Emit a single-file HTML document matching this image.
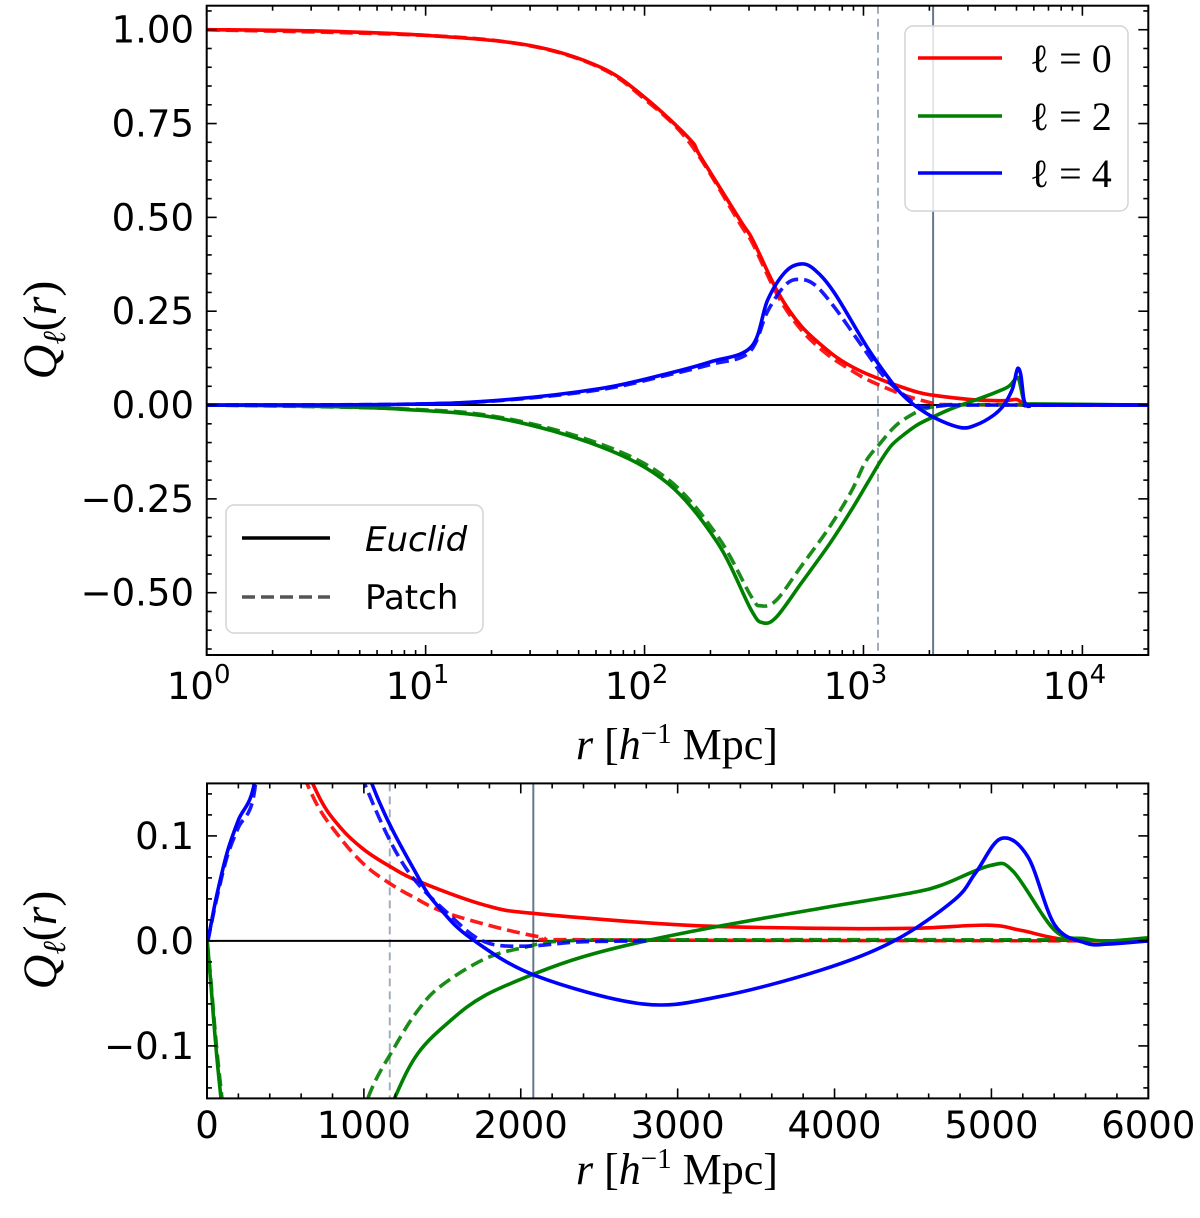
<!DOCTYPE html>
<html><head><meta charset="utf-8"><style>
html,body{margin:0;padding:0;background:#fff;overflow:hidden;width:1200px;height:1218px;}
svg{display:block;}
svg text{font-family:"DejaVu Sans","Liberation Sans",sans-serif;}
</style></head><body>
<svg id="fig" width="1200" height="1218" viewBox="0 0 1200 1218" xmlns="http://www.w3.org/2000/svg" overflow="hidden">
<defs>
<clipPath id="clipTop"><rect x="206.7" y="5.7" width="941.6" height="649.3"/></clipPath>
<clipPath id="clipBot"><rect x="207" y="783.4" width="941.3" height="315"/></clipPath>
</defs>
<g id="top"></g>
<g id="bot"></g>
</svg>
<script>
// ---- data (r in h^-1 Mpc, Q values) ----
const r0s = [0,1,3,10,30,63,100,160,181,275,312,407,520,705,850,1000,1165,1345,1772,2093,3053,3909,4500,4977,5190,5490,6000,20000];
const q0s = [1.0,1.0,0.997,0.985,0.958,0.9,0.82,0.71,0.66,0.49,0.44,0.30,0.21,0.14,0.108,0.087,0.071,0.057,0.034,0.026,0.015,0.012,0.012,0.015,0.010,0.001,0,0];
const r0d = [0,1,10,30,63,100,160,275,312,407,520,683,850,1000,1132,1300,1559,2114,2500,6000,20000];
const q0d = [1,1,0.985,0.957,0.898,0.815,0.70,0.48,0.43,0.29,0.20,0.135,0.098,0.073,0.058,0.043,0.025,0.004,0.001,0,0];
const r2s = [0,1,3,7.7,22,63,128,216,307,347,400,519,700,880,1050,1195,1345,1559,1772,2093,2400,2798,3300,3909,4463,4680,4998,5140,5404,5600,5745,6000,20000];
const q2s = [0,0,-0.003,-0.011,-0.036,-0.111,-0.209,-0.368,-0.546,-0.58,-0.565,-0.475,-0.37,-0.28,-0.205,-0.15,-0.107,-0.075,-0.052,-0.031,-0.015,0,0.015,0.031,0.045,0.053,0.072,0.066,0.010,0.002,0.0,0.003,0];
const r2d = [0,1,7.7,22,63,128,216,307,340,400,519,700,880,1025,1200,1345,1490,1772,2028,2280,3000,5400,5600,20000];
const q2d = [0,0,-0.010,-0.033,-0.104,-0.198,-0.35,-0.51,-0.535,-0.52,-0.43,-0.325,-0.23,-0.15,-0.1,-0.066,-0.043,-0.017,-0.006,0,0.001,0.001,0,0];
const r4s = [0,1,7.7,22,63,128,200,307,365,440,519,600,738,1050,1345,1490,1687,2093,2776,3268,3909,4379,4763,4900,5062,5233,5404,5600,5745,6000,20000];
const q4s = [0,0,0.002,0.013,0.044,0.084,0.115,0.155,0.28,0.355,0.376,0.36,0.298,0.15,0.061,0.030,0.002,-0.033,-0.060,-0.053,-0.028,0,0.039,0.065,0.0975,0.08,0.015,-0.002,-0.003,0,0];
const r4d = [0,1,7.7,22,63,128,200,300,365,440,510,600,738,1004,1260,1559,1772,2028,2370,2800,20000];
const q4d = [0,0,0.002,0.012,0.041,0.080,0.108,0.14,0.25,0.32,0.335,0.32,0.26,0.15,0.071,0.023,-0.001,-0.005,-0.001,0,0];
const vlineDashed = 1165, vlineSolid = 2080;
const topYTicks = [1.00,0.75,0.50,0.25,0.00,-0.25,-0.50];
const topYLabels = ["1.00","0.75","0.50","0.25","0.00","\u22120.25","\u22120.50"];
const topXExp = [0,1,2,3,4];
const botXTicks = [0,1000,2000,3000,4000,5000,6000];
const botYTicks = [0.1,0.0,-0.1];
const botYLabels = ["0.1","0.0","\u22120.1"];

const NS="http://www.w3.org/2000/svg";
function mk(parent,tag,attrs,txt){const e=document.createElementNS(NS,tag);for(const k in attrs)e.setAttribute(k,attrs[k]);if(txt!==undefined)e.textContent=txt;parent.appendChild(e);return e;}

const T={x0:206.7,x1:1148.3,y0:5.7,y1:655,lmin:0,lmax:Math.log10(20000),ymin:-0.666,ymax:1.064};
const tx=r=>T.x0+(Math.log10(r)-T.lmin)/(T.lmax-T.lmin)*(T.x1-T.x0);
const ty=q=>T.y1-(q-T.ymin)/(T.ymax-T.ymin)*(T.y1-T.y0);
const B={x0:207,x1:1148.3,y0:783.4,y1:1098.4,xmin:0,xmax:6000,ymin:-0.15,ymax:0.15};
const bx=r=>B.x0+(r-B.xmin)/(B.xmax-B.xmin)*(B.x1-B.x0);
const by=q=>B.y1-(q-B.ymin)/(B.ymax-B.ymin)*(B.y1-B.y0);

function pathD(pts){
  if(pts.length<2)return "";
  let d="M"+pts[0][0].toFixed(2)+","+pts[0][1].toFixed(2);
  for(let i=0;i<pts.length-1;i++){
    const p0=pts[Math.max(0,i-1)],p1=pts[i],p2=pts[i+1],p3=pts[Math.min(pts.length-1,i+2)];
    const c1=[p1[0]+(p2[0]-p0[0])/6,p1[1]+(p2[1]-p0[1])/6];
    const c2=[p2[0]-(p3[0]-p1[0])/6,p2[1]-(p3[1]-p1[1])/6];
    d+=" C"+c1[0].toFixed(2)+","+c1[1].toFixed(2)+" "+c2[0].toFixed(2)+","+c2[1].toFixed(2)+" "+p2[0].toFixed(2)+","+p2[1].toFixed(2);
  }
  return d;
}

const topG=document.getElementById('top'), botG=document.getElementById('bot');
const series=[
 {r:r0s,q:q0s,c:"#ff0000",dash:false,n:"l0-euclid"},
 {r:r0d,q:q0d,c:"#ff0000",dash:true,n:"l0-patch"},
 {r:r2s,q:q2s,c:"#008000",dash:false,n:"l2-euclid"},
 {r:r2d,q:q2d,c:"#008000",dash:true,n:"l2-patch"},
 {r:r4s,q:q4s,c:"#0000ff",dash:false,n:"l4-euclid"},
 {r:r4d,q:q4d,c:"#0000ff",dash:true,n:"l4-patch"}
];

// ---- top panel ----
const tclip=mk(topG,"g",{"clip-path":"url(#clipTop)"});
let e;
e=mk(tclip,"line",{x1:tx(vlineDashed),x2:tx(vlineDashed),y1:T.y0,y2:T.y1,stroke:"#a3adba","stroke-width":2,"stroke-dasharray":"8,5"});


e=mk(tclip,"line",{x1:tx(vlineSolid),x2:tx(vlineSolid),y1:T.y0,y2:T.y1,stroke:"#66788a","stroke-width":2});


e=mk(tclip,"line",{x1:T.x0,x2:T.x1,y1:ty(0),y2:ty(0),stroke:"#000","stroke-width":2});


series.forEach(s=>{
  const pts=[];for(let i=0;i<s.r.length;i++){if(s.r[i]>0)pts.push([tx(s.r[i]),ty(s.q[i])]);}
  const p=mk(tclip,"path",{d:pathD(pts),fill:"none",stroke:s.c,"stroke-width":3.6,"stroke-linejoin":"round","opacity":s.dash?0.9:1});
  if(s.dash)p.setAttribute("stroke-dasharray","13,6");
  
  
});
function tick(g,x1,y1,x2,y2){mk(g,"line",{x1,y1,x2,y2,stroke:"#000","stroke-width":1.6});}
const tt=mk(topG,"g",{});
topYTicks.forEach((v,i)=>{const y=ty(v);tick(tt,T.x0,y,T.x0+10,y);tick(tt,T.x1,y,T.x1-10,y);
  e=mk(topG,"text",{x:194,y:y+13,"text-anchor":"end","font-size":37},topYLabels[i]);
  
  });
for(let v=-0.65;v<=1.06;v+=0.05){const vv=Math.round(v*100)/100;if(Math.abs(vv*4-Math.round(vv*4))<1e-6)continue;const y=ty(vv);tick(tt,T.x0,y,T.x0+5,y);tick(tt,T.x1,y,T.x1-5,y);}
topXExp.forEach(k=>{const x=tx(Math.pow(10,k));tick(tt,x,T.y1,x,T.y1-10);tick(tt,x,T.y0,x,T.y0+10);
  const t=mk(topG,"text",{x:x-8,y:699,"text-anchor":"middle","font-size":37},"10");
  
  
  mk(t,"tspan",{dy:-16,"font-size":26},String(k));});
for(let k=0;k<5;k++)for(let m=2;m<=9;m++){const r=m*Math.pow(10,k);if(r>20000)break;const x=tx(r);tick(tt,x,T.y1,x,T.y1-5);tick(tt,x,T.y0,x,T.y0+5);}
e=mk(topG,"rect",{x:T.x0,y:T.y0,width:T.x1-T.x0,height:T.y1-T.y0,fill:"none",stroke:"#000","stroke-width":2});


const lg1=mk(topG,"g",{});


mk(lg1,"rect",{x:905,y:26,width:223,height:185,rx:8,fill:"rgba(255,255,255,0.82)",stroke:"#d4d4d4","stroke-width":1.5});
[["#ff0000","0",58],["#008000","2",116],["#0000ff","4",173]].forEach(a=>{
  const ge=mk(lg1,"g",{});
  
  
  mk(ge,"line",{x1:918,x2:1002,y1:a[2],y2:a[2],stroke:a[0],"stroke-width":3.6});
  mk(ge,"text",{x:1030,y:a[2]+14,"font-size":40,style:"font-family:'Liberation Serif',serif"},"\u2113 = "+a[1]);
});
const lg2=mk(topG,"g",{});


mk(lg2,"rect",{x:226,y:505,width:257,height:128,rx:8,fill:"rgba(255,255,255,0.82)",stroke:"#d4d4d4","stroke-width":1.5});
mk(lg2,"line",{x1:242,x2:330,y1:538,y2:538,stroke:"#000","stroke-width":3.6});
mk(lg2,"text",{x:365,y:551,"font-size":34,"font-style":"italic"},"Euclid");
mk(lg2,"line",{x1:242,x2:330,y1:597,y2:597,stroke:"#555","stroke-width":3.6,"stroke-dasharray":"13,6"});
mk(lg2,"text",{x:365,y:609,"font-size":34},"Patch");
function ylab(g,cy,name){const t=mk(g,"text",{transform:"translate(56,"+cy+") rotate(-90)","text-anchor":"middle","font-size":48,"font-style":"italic",style:"font-family:'Liberation Serif',serif"},"Q");
  
  
  mk(t,"tspan",{"font-size":32,dy:9},"\u2113");mk(t,"tspan",{dy:-9,"font-style":"normal"},"(");mk(t,"tspan",{},"r");mk(t,"tspan",{"font-style":"normal"},")");}
function xlab(g,y,name){const t=mk(g,"text",{x:677,y:y,"text-anchor":"middle","font-size":44,style:"font-family:'Liberation Serif',serif"});
  
  
  mk(t,"tspan",{"font-style":"italic"},"r");mk(t,"tspan",{}," [");mk(t,"tspan",{"font-style":"italic"},"h");mk(t,"tspan",{"font-size":29,dy:-16},"\u22121");mk(t,"tspan",{dy:16}," Mpc]");}
ylab(topG,330,'top-y-axis-title');
xlab(topG,759,'top-x-axis-title');

// ---- bottom panel ----
const bclip=mk(botG,"g",{"clip-path":"url(#clipBot)"});
e=mk(bclip,"line",{x1:bx(vlineDashed),x2:bx(vlineDashed),y1:B.y0,y2:B.y1,stroke:"#a3adba","stroke-width":2,"stroke-dasharray":"8,5"});


e=mk(bclip,"line",{x1:bx(vlineSolid),x2:bx(vlineSolid),y1:B.y0,y2:B.y1,stroke:"#66788a","stroke-width":2});


e=mk(bclip,"line",{x1:B.x0,x2:B.x1,y1:by(0),y2:by(0),stroke:"#000","stroke-width":2});


series.forEach(s=>{
  const pts=[];for(let i=0;i<s.r.length;i++){if(s.r[i]<=7000&&!(s.r[i]===1))pts.push([bx(s.r[i]),by(s.q[i])]);}
  const p=mk(bclip,"path",{d:pathD(pts),fill:"none",stroke:s.c,"stroke-width":3.6,"stroke-linejoin":"round","opacity":s.dash?0.9:1});
  if(s.dash)p.setAttribute("stroke-dasharray","13,6");
  
  
});
const bt=mk(botG,"g",{});
botYTicks.forEach((v,i)=>{const y=by(v);tick(bt,B.x0,y,B.x0+10,y);tick(bt,B.x1,y,B.x1-10,y);
  e=mk(botG,"text",{x:194,y:y+13,"text-anchor":"end","font-size":37},botYLabels[i]);
  
  });
for(let k=-7;k<=7;k++){if(k%5===0)continue;const y=by(k*0.02);tick(bt,B.x0,y,B.x0+5,y);tick(bt,B.x1,y,B.x1-5,y);}
botXTicks.forEach(v=>{const x=bx(v);tick(bt,x,B.y1,x,B.y1-10);tick(bt,x,B.y0,x,B.y0+10);
  e=mk(botG,"text",{x:x,y:1138,"text-anchor":"middle","font-size":37},String(v));
  
  });
for(let v=200;v<6000;v+=200){if(v%1000===0)continue;const x=bx(v);tick(bt,x,B.y1,x,B.y1-5);tick(bt,x,B.y0,x,B.y0+5);}
e=mk(botG,"rect",{x:B.x0,y:B.y0,width:B.x1-B.x0,height:B.y1-B.y0,fill:"none",stroke:"#000","stroke-width":2});


ylab(botG,940,'bottom-y-axis-title');
xlab(botG,1184,'bottom-x-axis-title');
</script>
</body></html>
